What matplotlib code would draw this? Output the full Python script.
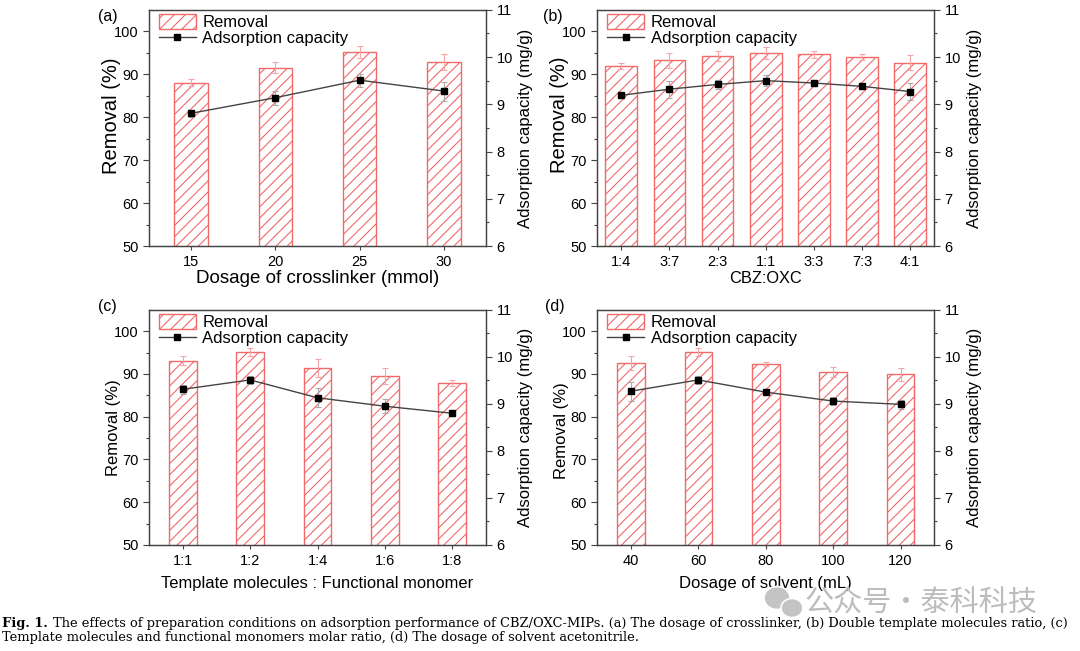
import matplotlib.pyplot as plt
import numpy as np
from matplotlib.patches import Ellipse

plt.rcParams['font.family'] = ['Liberation Sans', 'DejaVu Sans']
plt.rcParams['hatch.color'] = '#f28b8b'
plt.rcParams['hatch.linewidth'] = 0.8

# (a) crosslinker
a_labels = ['15', '20', '25', '30']
a_removal = [88.0, 91.5, 95.2, 92.8]
a_removal_err = [0.8, 1.3, 1.4, 1.9]
a_cap = [8.81, 9.14, 9.51, 9.28]
a_cap_err = [0.07, 0.15, 0.14, 0.2]

# (b) CBZ:OXC
b_labels = ['1:4', '3:7', '2:3', '1:1', '3:3', '7:3', '4:1']
b_removal = [91.9, 93.2, 94.2, 95.0, 94.6, 93.9, 92.7]
b_removal_err = [0.6, 1.8, 1.2, 1.4, 0.9, 0.7, 1.8]
b_cap = [9.19, 9.32, 9.42, 9.50, 9.45, 9.38, 9.27]
b_cap_err = [0.05, 0.18, 0.1, 0.12, 0.07, 0.06, 0.18]

# (c) template : monomer
c_labels = ['1:1', '1:2', '1:4', '1:6', '1:8']
c_removal = [93.1, 95.1, 91.4, 89.5, 87.9]
c_removal_err = [1.0, 1.0, 2.2, 1.8, 0.8]
c_cap = [9.31, 9.51, 9.13, 8.95, 8.80]
c_cap_err = [0.1, 0.08, 0.2, 0.15, 0.05]

# (d) solvent
d_labels = ['40', '60', '80', '100', '120']
d_removal = [92.6, 95.1, 92.4, 90.5, 89.9]
d_removal_err = [1.6, 1.0, 0.5, 1.1, 1.5]
d_cap = [9.27, 9.51, 9.25, 9.06, 8.99]
d_cap_err = [0.2, 0.08, 0.05, 0.08, 0.1]

spine_c = '#444444'


def panel(rect, tag, tagpos, labels, removal, rerr, cap, cerr, xlabel, xlsize,
          xpad, ylsize, ylpos, width):
    ax = fig.add_axes(rect)
    x = np.arange(len(labels))
    ax.bar(x, removal, width=width, bottom=0, color='white', edgecolor='#f06a6a',
           linewidth=1.0, hatch='///', label='Removal', zorder=2)
    ax.errorbar(x, removal, yerr=rerr, fmt='none', ecolor='#f5a5a5',
                elinewidth=0.8, capsize=2.5, capthick=0.8, zorder=3)
    ax.set_xlim(-0.5, len(labels) - 0.5)
    ax.set_ylim(50, 105)
    ax.set_yticks(range(50, 101, 10))
    ax.set_yticks(range(55, 105, 10), minor=True)
    ax.set_xticks(x)
    ax.set_xticklabels(labels)
    ax.set_ylabel('Removal (%)', fontsize=ylsize, labelpad=1)
    ax.yaxis.set_label_coords(-0.083, ylpos)
    ax.set_xlabel(xlabel, fontsize=xlsize, labelpad=xpad)
    ax.tick_params(axis='both', labelsize=10.5, color=spine_c, length=4, width=0.8)
    ax.tick_params(axis='y', which='minor', length=2, width=0.8, color=spine_c)
    ax.tick_params(axis='x', length=3)
    for s in ax.spines.values():
        s.set_color(spine_c)
        s.set_linewidth(0.9)

    ax2 = ax.twinx()
    ax2.errorbar(x, cap, yerr=cerr, fmt='none', ecolor='#aaaaaa',
                 elinewidth=0.8, capsize=2.5, capthick=0.8, zorder=3)
    ax2.plot(x, cap, color='#444444', linewidth=1.0, marker='s', markersize=5,
             markerfacecolor='black', markeredgecolor='black',
             label='Adsorption capacity', zorder=4)
    ax2.set_ylim(6, 11)
    ax2.set_yticks(range(6, 12))
    ax2.set_yticks(np.arange(6.5, 11, 1.0), minor=True)
    ax2.set_ylabel('Adsorption capacity (mg/g)', fontsize=12, labelpad=4)
    ax2.tick_params(axis='y', labelsize=10.5, color=spine_c, length=4, width=0.8)
    ax2.tick_params(axis='y', which='minor', length=2, width=0.8, color=spine_c)
    for s in ax2.spines.values():
        s.set_color(spine_c)
        s.set_linewidth(0.9)

    h1, l1 = ax.get_legend_handles_labels()
    h2, l2 = ax2.get_legend_handles_labels()
    ax.legend(h1 + h2, l1 + l2, loc='upper left', bbox_to_anchor=(0.0, 1.025),
              frameon=False, fontsize=12, handlelength=2.2, handleheight=1.0,
              handletextpad=0.4, labelspacing=0.0, borderaxespad=0.3,
              borderpad=0.3)
    fig.text(tagpos[0] / 1080, 1 - tagpos[1] / 651, tag, fontsize=11.5,
             ha='left', va='center')
    return ax


fig = plt.figure(figsize=(10.8, 6.51), dpi=100)

panel([0.138, 0.622, 0.312, 0.363], '(a)', (98, 16), a_labels, a_removal,
      a_removal_err, a_cap, a_cap_err, 'Dosage of crosslinker (mmol)', 13.5, 0.5,
      14.5, 0.55, 0.4)
panel([0.553, 0.622, 0.312, 0.363], '(b)', (543, 16), b_labels, b_removal,
      b_removal_err, b_cap, b_cap_err, 'CBZ:OXC', 11.8, 1.5, 14.5, 0.555, 0.66)
panel([0.138, 0.163, 0.312, 0.361], '(c)', (98, 306), c_labels, c_removal,
      c_removal_err, c_cap, c_cap_err, 'Template molecules : Functional monomer',
      11.9, 6, 12, 0.50, 0.41)
panel([0.553, 0.163, 0.312, 0.361], '(d)', (545, 306), d_labels, d_removal,
      d_removal_err, d_cap, d_cap_err, 'Dosage of solvent (mL)', 12, 6, 12,
      0.485, 0.41)

# watermark
icon_c = '#c4c4c4'
fig.patches.append(Ellipse((777 / 1080, 1 - 598 / 651), 26 / 1080, 23 / 651,
                           transform=fig.transFigure, facecolor=icon_c,
                           edgecolor='white', linewidth=1.2, zorder=5))
fig.patches.append(Ellipse((792 / 1080, 1 - 608 / 651), 22 / 1080, 19 / 651,
                           transform=fig.transFigure, facecolor=icon_c,
                           edgecolor='white', linewidth=1.2, zorder=5))
fig.text(805 / 1080, 1 - 604 / 651, '公众号・泰科科技', fontsize=21,
         family=['Noto Sans CJK SC', 'DejaVu Sans'], color='#bcbcbc',
         va='center', ha='left', zorder=5)

serif = ['DejaVu Serif']
fs = 9.4
fig.text(0.002, 1 - 627 / 651, 'Fig. 1.', fontsize=fs, family=serif,
         fontweight='bold', va='baseline', ha='left', zorder=6)
fig.text(0.049, 1 - 627 / 651,
         'The effects of preparation conditions on adsorption performance of CBZ/OXC-MIPs. '
         '(a) The dosage of crosslinker, (b) Double template molecules ratio, (c)',
         fontsize=fs, family=serif, va='baseline', ha='left', zorder=6)
fig.text(0.002, 1 - 641 / 651,
         'Template molecules and functional monomers molar ratio, (d) The dosage of solvent acetonitrile.',
         fontsize=fs, family=serif, va='baseline', ha='left', zorder=6)

fig.savefig('out.png', dpi=100)
